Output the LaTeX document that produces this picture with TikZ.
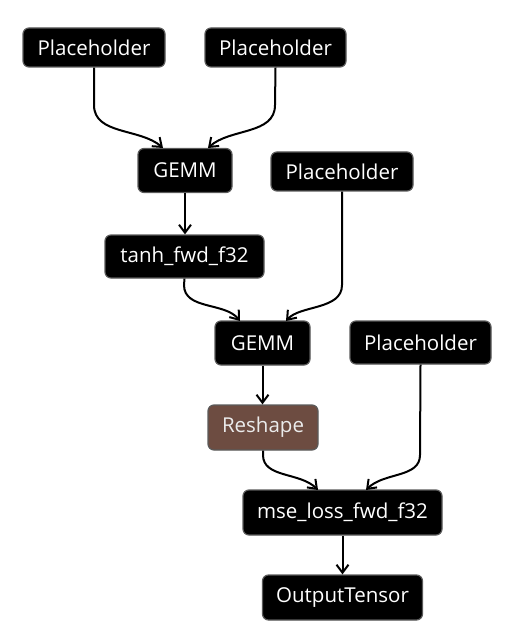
\documentclass[tikz,border=0pt]{standalone}
\usepackage{fontspec}
\setmainfont{Open Sans}
\usetikzlibrary{arrows.meta}
\definecolor{nodeborder}{HTML}{5A5A5A}
\definecolor{reshapefill}{HTML}{6D4C41}
\tikzset{
  opbox/.style={draw=nodeborder, line width=1.2pt, fill=black, rounded corners=6pt,
    text=white, font=\fontsize{20.5}{24}\selectfont, inner sep=0pt, anchor=center},
  brownbox/.style={opbox, fill=reshapefill, text=white!92!black},
  edge/.style={line width=2pt, -{Straight Barb[length=8pt,width=12pt,line width=2pt]}},
}
\begin{document}
\begin{tikzpicture}[x=1pt,y=-1pt]
\useasboundingbox (0,0) rectangle (516,644);
\node[opbox, minimum width=142pt, minimum height=39pt] (p1) at (94,47.5) {Placeholder};
\node[opbox, minimum width=141pt, minimum height=39pt] (p2) at (275.5,47.5) {Placeholder};
\node[opbox, minimum width=94pt, minimum height=44pt] (g1) at (185,170.5) {GEMM};
\node[opbox, minimum width=142pt, minimum height=39pt] (p3) at (342,171.5) {Placeholder};
\node[opbox, minimum width=159pt, minimum height=43pt] (t1) at (184.5,256.5) {tanh\_fwd\_f32};
\node[opbox, minimum width=95pt, minimum height=44pt] (g2) at (262.5,343) {GEMM};
\node[opbox, minimum width=141pt, minimum height=43pt] (p4) at (420.5,342.5) {Placeholder};
\node[brownbox, minimum width=110pt, minimum height=45pt] (rs) at (263,427.5) {Reshape};
\node[opbox, minimum width=199pt, minimum height=45pt] (ms) at (342.5,512.5) {mse\_loss\_fwd\_f32};
\node[opbox, minimum width=160pt, minimum height=45pt] (ot) at (342.5,597.5) {OutputTensor};

\draw[edge] (p1.south) -- (94,105) .. controls (94,135) and (140,128) .. (163,148);
\draw[edge] (p2.south) -- (275,105) .. controls (275,135) and (230,128) .. (208,148);
\draw[edge] (g1.south) -- (t1.north -| g1.south);
\draw[edge] (t1.south) -- (184,285) .. controls (184,310) and (225,302) .. (240,321);
\draw[edge] (p3.south) -- (342,285) .. controls (342,310) and (300,305) .. (286,321);
\draw[edge] (g2.south) -- (rs.north -| g2.south);
\draw[edge] (rs.south) -- (263,455) .. controls (263,478) and (300,472) .. (318,490);
\draw[edge] (p4.south) -- (420,455) .. controls (420,478) and (384,472) .. (366,490);
\draw[edge] (ms.south) -- (ot.north);
\end{tikzpicture}
\end{document}
